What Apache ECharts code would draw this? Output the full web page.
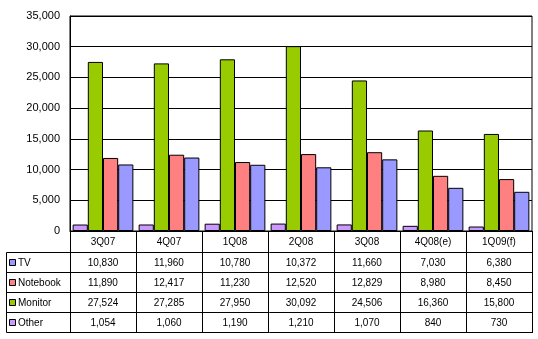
<!DOCTYPE html>
<html>
<head>
<meta charset="utf-8">
<script src="https://cdn.jsdelivr.net/npm/echarts@6/dist/echarts.min.js"></script>
<style>html,body{margin:0;padding:0;background:#fff;}#c{width:538px;height:339px;}</style>
</head>
<body>
<div id="c"></div>
<script>
var categories = ['3Q07','4Q07','1Q08','2Q08','3Q08','4Q08(e)','1Q09(f)'];
var tv = [10830,11960,10780,10372,11660,7030,6380];
var notebook = [11890,12417,11230,12520,12829,8980,8450];
var monitor = [27524,27285,27950,30092,24506,16360,15800];
var other = [1054,1060,1190,1210,1070,840,730];
var yTickValues = [0,5000,10000,15000,20000,25000,30000,35000];
var yTickLabels = ['0','5,000','10,000','15,000','20,000','25,000','30,000','35,000'];

var FONT = '"Liberation Sans", Arial, sans-serif';
var colors = {TV:'#9999ff', Notebook:'#ff8080', Monitor:'#99cc00', Other:'#cc99ff'};
var rows = [['TV', tv], ['Notebook', notebook], ['Monitor', monitor], ['Other', other]];
function fmt(v){ return Number(v).toLocaleString('en-US'); }

var G = {left:70, top:16, width:462, height:215};
var axisY = G.top + G.height;
var rowH = 20;
var headerBottom = 253;

var xAxes = [{
  type:'category', data:categories, gridIndex:0, position:'bottom',
  boundaryGap:true,
  axisLine:{show:true, lineStyle:{color:'#000', width:1}},
  axisTick:{show:true, length:102, interval:0, alignWithLabel:false, lineStyle:{color:'#000', width:1}},
  axisLabel:{interval:0, margin:11, verticalAlign:'middle', color:'#000', fontFamily:FONT, fontSize:10},
  splitLine:{show:false}
}];
rows.forEach(function(r, i){
  var arr = r[1];
  xAxes.push({
    type:'category', data:categories, gridIndex:0, position:'bottom',
    offset: (headerBottom + rowH*i + rowH/2) - axisY,
    axisLine:{show:false}, axisTick:{show:false}, splitLine:{show:false},
    axisLabel:{interval:0, margin:0, verticalAlign:'middle', color:'#000', fontFamily:FONT, fontSize:10,
      formatter:function(v, idx){ return fmt(arr[idx]); }}
  });
});

var graphics = [];
for (var i = 0; i <= rows.length; i++) {
  var y = headerBottom + rowH*i - 0.5;
  graphics.push({type:'line', shape:{x1:6.5, y1:y, x2:G.left+G.width+0.5, y2:y}, style:{stroke:'#000', lineWidth:1}, silent:true});
}
graphics.push({type:'line', shape:{x1:6.5, y1:headerBottom-0.5, x2:6.5, y2:headerBottom+rowH*rows.length-0.5}, style:{stroke:'#000', lineWidth:1}, silent:true});
// row keys of the data table
rows.forEach(function(r, i){
  var cy = headerBottom + rowH*i + rowH/2;
  graphics.push({type:'rect', shape:{x:9.5, y:Math.round(cy)-3.5, width:6, height:6}, style:{fill:colors[r[0]], stroke:'#000', lineWidth:1}, silent:true});
  graphics.push({type:'text', x:18, y:cy, silent:true, style:{text:r[0], fill:'#000', fontFamily:FONT, fontSize:10, align:'left', verticalAlign:'middle'}});
});

var seriesOrder = [['Other', other], ['Monitor', monitor], ['Notebook', notebook], ['TV', tv]];
var series = seriesOrder.map(function(s){
  return {
    name:s[0], type:'bar', data:s[1], xAxisIndex:0, yAxisIndex:0,
    barGap:'0%', barCategoryGap:'8%',
    itemStyle:{color:colors[s[0]], borderColor:'#000', borderWidth:1},
    emphasis:{disabled:true}
  };
});

var chart = echarts.init(document.getElementById('c'), null, {renderer:'canvas'});
chart.setOption({
  animation:false,
  backgroundColor:'#fff',
  grid:{left:G.left, top:G.top, width:G.width, height:G.height, show:true, borderColor:'#000', borderWidth:1, backgroundColor:'transparent', containLabel:false},
  xAxis:xAxes,
  yAxis:{
    type:'value', min:yTickValues[0], max:yTickValues[yTickValues.length-1], interval:yTickValues[1]-yTickValues[0],
    axisLine:{show:true, lineStyle:{color:'#000'}}, axisTick:{show:false},
    splitLine:{show:true, lineStyle:{color:'#000', width:1}},
    axisLabel:{show:false}
  },
  graphic:graphics,
  series:series
});

// y tick labels placed through the value axis scale
var labelEls = yTickValues.map(function(v, i){
  var py = chart.convertToPixel({yAxisIndex:0}, v);
  return {type:'text', x:G.left-10, y:py, z:100, silent:true,
    style:{text:yTickLabels[i], fill:'#000', fontFamily:FONT, fontSize:11, align:'right', verticalAlign:'middle'}};
});
chart.setOption({graphic:graphics.concat(labelEls)});
</script>
</body>
</html>
